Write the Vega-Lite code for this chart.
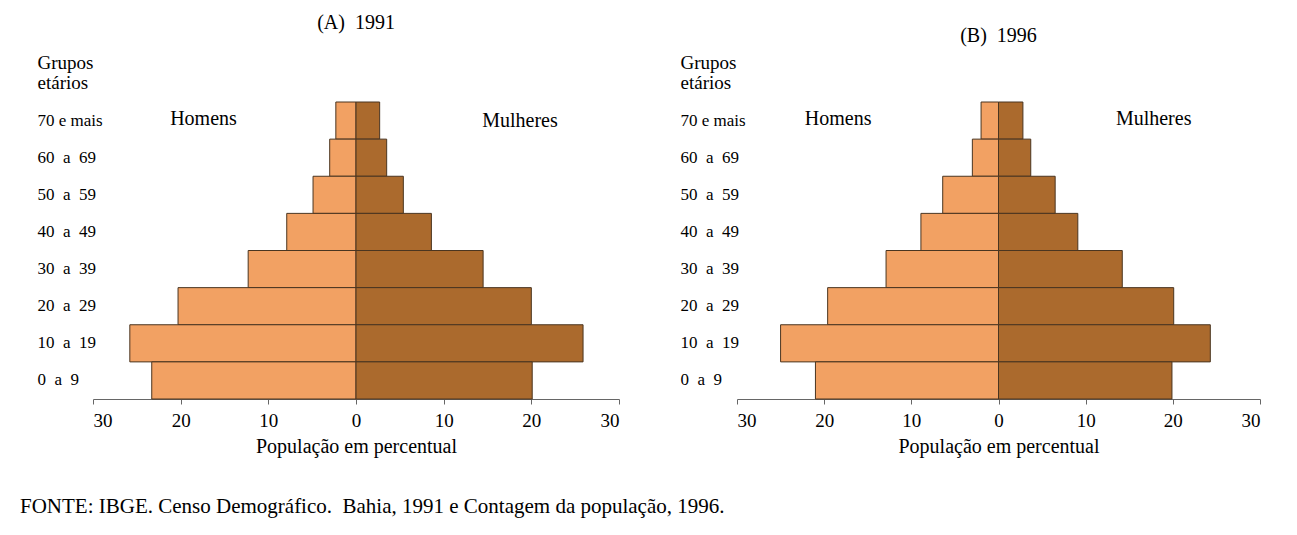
{
  "$schema": "https://vega.github.io/schema/vega-lite/v6.json",
  "padding": {"left": 20, "top": 13, "right": 5, "bottom": 5},
  "background": "white",
  "bounds": "flush",
  "spacing": 118,
  "config": {
    "view": {"stroke": null},
    "font": "Liberation Serif",
    "title": {"font": "Liberation Serif", "fontWeight": "normal", "color": "black"},
    "axis": {"labelFont": "Liberation Serif", "titleFont": "Liberation Serif", "labelColor": "black", "titleColor": "black", "titleFontWeight": "normal", "grid": false}
  },
  "title": {"text": "FONTE: IBGE. Censo Demográfico.\u00a0\u00a0Bahia, 1991 e Contagem da população, 1996.", "orient": "bottom", "anchor": "start", "frame": "bounds", "dx": -17, "offset": 40, "fontSize": 21},
  "datasets": {
    "pop": [
      {"ano": 1991, "sexo": "Homens", "grupo": "70 e mais", "pct": 2.3},
      {"ano": 1991, "sexo": "Homens", "grupo": "60\u00a0\u00a0a\u00a0\u00a069", "pct": 3.0},
      {"ano": 1991, "sexo": "Homens", "grupo": "50\u00a0\u00a0a\u00a0\u00a059", "pct": 4.9},
      {"ano": 1991, "sexo": "Homens", "grupo": "40\u00a0\u00a0a\u00a0\u00a049", "pct": 7.9},
      {"ano": 1991, "sexo": "Homens", "grupo": "30\u00a0\u00a0a\u00a0\u00a039", "pct": 12.3},
      {"ano": 1991, "sexo": "Homens", "grupo": "20\u00a0\u00a0a\u00a0\u00a029", "pct": 20.3},
      {"ano": 1991, "sexo": "Homens", "grupo": "10\u00a0\u00a0a\u00a0\u00a019", "pct": 25.8},
      {"ano": 1991, "sexo": "Homens", "grupo": "\u00a00\u00a0\u00a0a\u00a0\u00a09", "pct": 23.3},
      {"ano": 1991, "sexo": "Mulheres", "grupo": "70 e mais", "pct": 2.7},
      {"ano": 1991, "sexo": "Mulheres", "grupo": "60\u00a0\u00a0a\u00a0\u00a069", "pct": 3.5},
      {"ano": 1991, "sexo": "Mulheres", "grupo": "50\u00a0\u00a0a\u00a0\u00a059", "pct": 5.4},
      {"ano": 1991, "sexo": "Mulheres", "grupo": "40\u00a0\u00a0a\u00a0\u00a049", "pct": 8.6},
      {"ano": 1991, "sexo": "Mulheres", "grupo": "30\u00a0\u00a0a\u00a0\u00a039", "pct": 14.5},
      {"ano": 1991, "sexo": "Mulheres", "grupo": "20\u00a0\u00a0a\u00a0\u00a029", "pct": 20.0},
      {"ano": 1991, "sexo": "Mulheres", "grupo": "10\u00a0\u00a0a\u00a0\u00a019", "pct": 25.9},
      {"ano": 1991, "sexo": "Mulheres", "grupo": "\u00a00\u00a0\u00a0a\u00a0\u00a09", "pct": 20.1},
      {"ano": 1996, "sexo": "Homens", "grupo": "70 e mais", "pct": 2.0},
      {"ano": 1996, "sexo": "Homens", "grupo": "60\u00a0\u00a0a\u00a0\u00a069", "pct": 3.0},
      {"ano": 1996, "sexo": "Homens", "grupo": "50\u00a0\u00a0a\u00a0\u00a059", "pct": 6.4},
      {"ano": 1996, "sexo": "Homens", "grupo": "40\u00a0\u00a0a\u00a0\u00a049", "pct": 8.9},
      {"ano": 1996, "sexo": "Homens", "grupo": "30\u00a0\u00a0a\u00a0\u00a039", "pct": 12.9},
      {"ano": 1996, "sexo": "Homens", "grupo": "20\u00a0\u00a0a\u00a0\u00a029", "pct": 19.6},
      {"ano": 1996, "sexo": "Homens", "grupo": "10\u00a0\u00a0a\u00a0\u00a019", "pct": 25.0},
      {"ano": 1996, "sexo": "Homens", "grupo": "\u00a00\u00a0\u00a0a\u00a0\u00a09", "pct": 21.0},
      {"ano": 1996, "sexo": "Mulheres", "grupo": "70 e mais", "pct": 2.8},
      {"ano": 1996, "sexo": "Mulheres", "grupo": "60\u00a0\u00a0a\u00a0\u00a069", "pct": 3.7},
      {"ano": 1996, "sexo": "Mulheres", "grupo": "50\u00a0\u00a0a\u00a0\u00a059", "pct": 6.5},
      {"ano": 1996, "sexo": "Mulheres", "grupo": "40\u00a0\u00a0a\u00a0\u00a049", "pct": 9.1},
      {"ano": 1996, "sexo": "Mulheres", "grupo": "30\u00a0\u00a0a\u00a0\u00a039", "pct": 14.2},
      {"ano": 1996, "sexo": "Mulheres", "grupo": "20\u00a0\u00a0a\u00a0\u00a029", "pct": 20.1},
      {"ano": 1996, "sexo": "Mulheres", "grupo": "10\u00a0\u00a0a\u00a0\u00a019", "pct": 24.3},
      {"ano": 1996, "sexo": "Mulheres", "grupo": "\u00a00\u00a0\u00a0a\u00a0\u00a09", "pct": 19.9}
    ]
  },
  "hconcat": [
    {
      "width": 526,
      "height": 297,
      "title": {"text": "(A)\u00a0\u00a01991", "fontSize": 20, "offset": 20},
      "data": {"name": "pop"},
      "transform": [{"filter": "datum.ano == 1991"}],
      "resolve": {"scale": {"x": "independent"}},
      "encoding": {
        "y": {"field": "grupo", "type": "nominal",
          "scale": {"domain": ["70 e mais", "60\u00a0\u00a0a\u00a0\u00a069", "50\u00a0\u00a0a\u00a0\u00a059", "40\u00a0\u00a0a\u00a0\u00a049", "30\u00a0\u00a0a\u00a0\u00a039", "20\u00a0\u00a0a\u00a0\u00a029", "10\u00a0\u00a0a\u00a0\u00a019", "\u00a00\u00a0\u00a0a\u00a0\u00a09"], "paddingInner": 0, "paddingOuter": 0},
          "axis": {"domain": false, "ticks": false, "labelAlign": "left", "labelPadding": 56, "labelFontSize": 17, "title": ["Grupos", "etários"], "titleAngle": 0, "titleAlign": "left", "titleX": -56, "titleY": -34, "titleBaseline": "alphabetic", "titleFontSize": 19, "titleLineHeight": 20}}
      },
      "layer": [
        {
          "transform": [{"filter": "datum.sexo == 'Homens'"}],
          "mark": {"type": "bar", "fill": "#F2A163", "stroke": "#4a3520", "strokeWidth": 1},
          "encoding": {
            "x": {"field": "pct", "type": "quantitative", "scale": {"domain": [-30, 30], "reverse": true}, "axis": null}
          }
        },
        {
          "transform": [{"filter": "datum.sexo == 'Mulheres'"}],
          "mark": {"type": "bar", "fill": "#AB6A2D", "stroke": "#4a3520", "strokeWidth": 1},
          "encoding": {
            "x": {"field": "pct", "type": "quantitative", "scale": {"domain": [-30, 30]},
              "axis": {"values": [-30, -20, -10, 0, 10, 20, 30], "labelExpr": "abs(datum.value)", "domainColor": "#666", "tickColor": "#666", "tickSize": 5, "labelFontSize": 19, "labelPadding": 7, "title": "População em percentual", "titleFontSize": 20, "titlePadding": 6}}
          }
        },
        {
          "transform": [{"filter": "datum.sexo == 'Homens' && datum.grupo == '70 e mais'"}],
          "mark": {"type": "text", "fontSize": 20, "font": "Liberation Serif", "align": "center", "baseline": "middle", "dy": -2, "color": "black"},
          "encoding": {
            "x": {"datum": -17.4, "type": "quantitative", "scale": {"domain": [-30, 30]}, "axis": null},
            "text": {"value": "Homens"}
          }
        },
        {
          "transform": [{"filter": "datum.sexo == 'Mulheres' && datum.grupo == '70 e mais'"}],
          "mark": {"type": "text", "fontSize": 20, "font": "Liberation Serif", "align": "center", "baseline": "middle", "dy": 0, "color": "black"},
          "encoding": {
            "x": {"datum": 18.7, "type": "quantitative", "scale": {"domain": [-30, 30]}, "axis": null},
            "text": {"value": "Mulheres"}
          }
        }
      ]
    },
    {
      "width": 523,
      "height": 297,
      "title": {"text": "(B)\u00a0\u00a01996", "fontSize": 20, "offset": 7},
      "data": {"name": "pop"},
      "transform": [{"filter": "datum.ano == 1996"}],
      "resolve": {"scale": {"x": "independent"}},
      "encoding": {
        "y": {"field": "grupo", "type": "nominal",
          "scale": {"domain": ["70 e mais", "60\u00a0\u00a0a\u00a0\u00a069", "50\u00a0\u00a0a\u00a0\u00a059", "40\u00a0\u00a0a\u00a0\u00a049", "30\u00a0\u00a0a\u00a0\u00a039", "20\u00a0\u00a0a\u00a0\u00a029", "10\u00a0\u00a0a\u00a0\u00a019", "\u00a00\u00a0\u00a0a\u00a0\u00a09"], "paddingInner": 0, "paddingOuter": 0},
          "axis": {"domain": false, "ticks": false, "labelAlign": "left", "labelPadding": 57, "labelFontSize": 17, "title": ["Grupos", "etários"], "titleAngle": 0, "titleAlign": "left", "titleX": -57, "titleY": -34, "titleBaseline": "alphabetic", "titleFontSize": 19, "titleLineHeight": 20}}
      },
      "layer": [
        {
          "transform": [{"filter": "datum.sexo == 'Homens'"}],
          "mark": {"type": "bar", "fill": "#F2A163", "stroke": "#4a3520", "strokeWidth": 1},
          "encoding": {
            "x": {"field": "pct", "type": "quantitative", "scale": {"domain": [-30, 30], "reverse": true}, "axis": null}
          }
        },
        {
          "transform": [{"filter": "datum.sexo == 'Mulheres'"}],
          "mark": {"type": "bar", "fill": "#AB6A2D", "stroke": "#4a3520", "strokeWidth": 1},
          "encoding": {
            "x": {"field": "pct", "type": "quantitative", "scale": {"domain": [-30, 30]},
              "axis": {"values": [-30, -20, -10, 0, 10, 20, 30], "labelExpr": "abs(datum.value)", "domainColor": "#666", "tickColor": "#666", "tickSize": 5, "labelFontSize": 19, "labelPadding": 7, "title": "População em percentual", "titleFontSize": 20, "titlePadding": 6}}
          }
        },
        {
          "transform": [{"filter": "datum.sexo == 'Homens' && datum.grupo == '70 e mais'"}],
          "mark": {"type": "text", "fontSize": 20, "font": "Liberation Serif", "align": "center", "baseline": "middle", "dy": -2, "color": "black"},
          "encoding": {
            "x": {"datum": -18.4, "type": "quantitative", "scale": {"domain": [-30, 30]}, "axis": null},
            "text": {"value": "Homens"}
          }
        },
        {
          "transform": [{"filter": "datum.sexo == 'Mulheres' && datum.grupo == '70 e mais'"}],
          "mark": {"type": "text", "fontSize": 20, "font": "Liberation Serif", "align": "center", "baseline": "middle", "dy": -2, "color": "black"},
          "encoding": {
            "x": {"datum": 17.8, "type": "quantitative", "scale": {"domain": [-30, 30]}, "axis": null},
            "text": {"value": "Mulheres"}
          }
        }
      ]
    }
  ]
}
